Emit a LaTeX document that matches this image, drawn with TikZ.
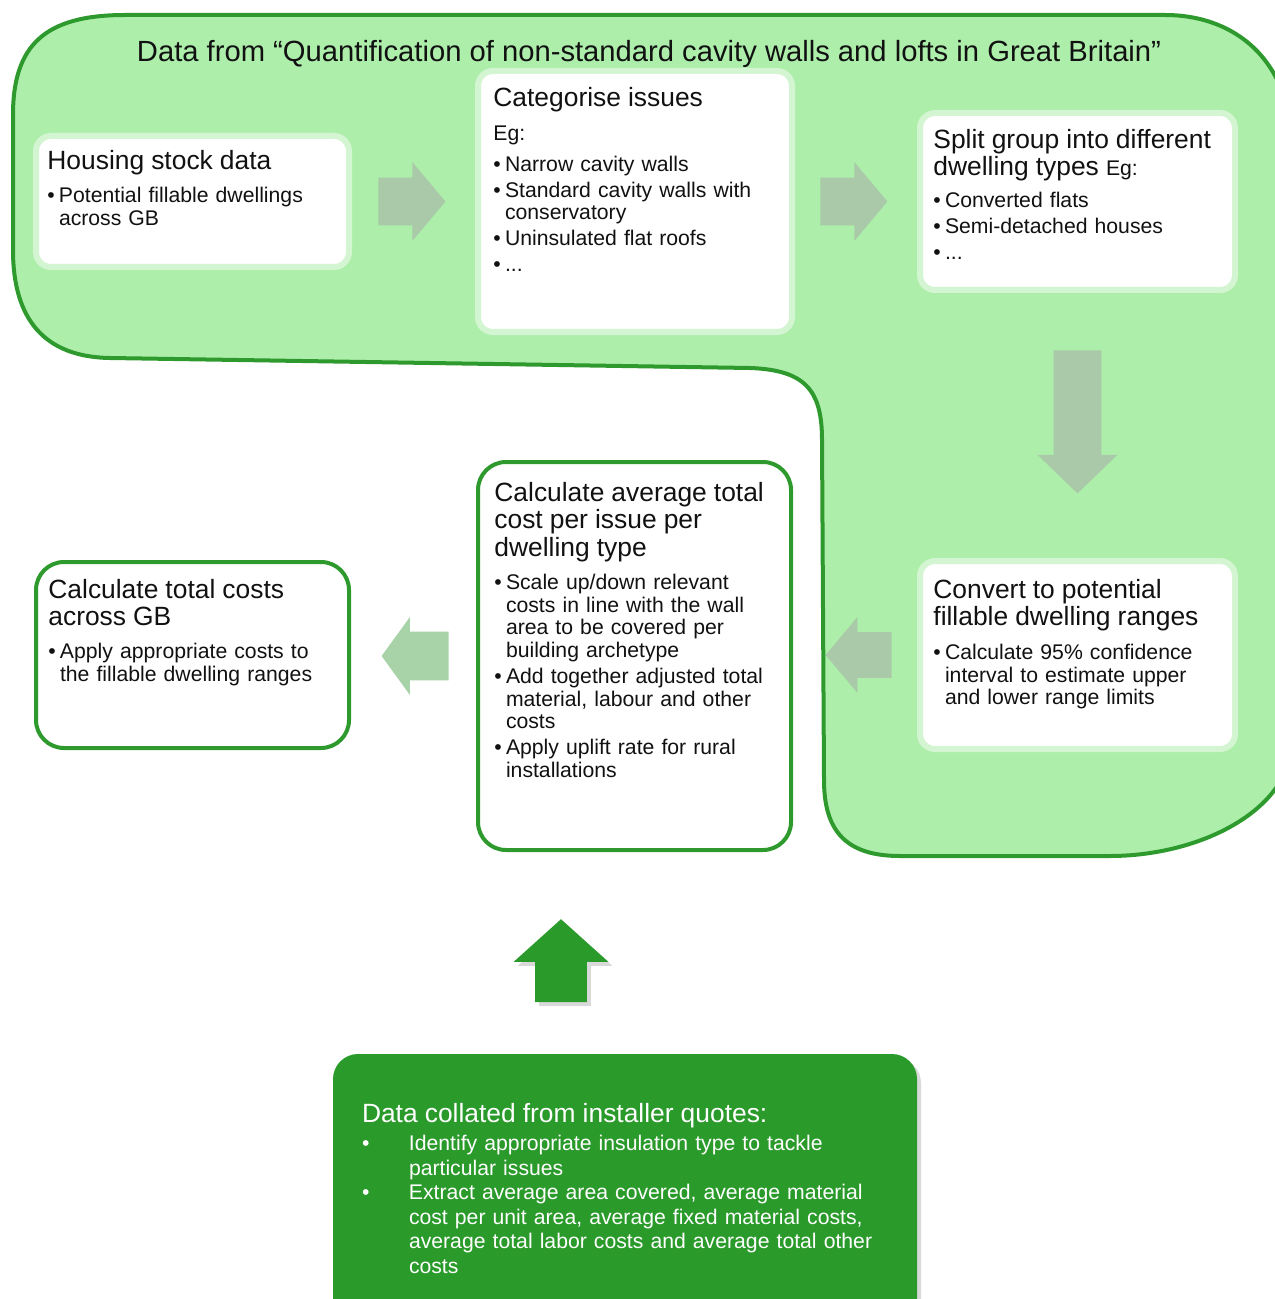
\documentclass[tikz,border=0pt]{standalone}
\usepackage{fontspec}
\setmainfont{Liberation Sans}
\usetikzlibrary{shapes.arrows,shadows,calc}

\definecolor{regiongreen}{RGB}{173,238,171}
\definecolor{edgegreen}{RGB}{46,154,46}
\definecolor{halogreen}{RGB}{212,245,210}
\definecolor{arrowgrey}{RGB}{169,201,169}
\definecolor{arrowlight}{RGB}{168,211,168}
\definecolor{quotegreen}{RGB}{42,154,42}
\definecolor{inktext}{RGB}{17,17,17}

\newcommand{\hdsize}{\fontsize{13.2}{13.75}\selectfont}
\newcommand{\bdsize}{\fontsize{10.6}{11.3}\selectfont}
\newcommand{\bpoint}[1]{\par\vspace{1.7pt}\hangindent=5.8pt\hangafter=1\noindent\makebox[5.8pt][l]{\textbullet}#1\par}
\newcommand{\qpoint}[1]{\par\hangindent=23.5pt\hangafter=1\noindent\makebox[23.5pt][l]{\textbullet}#1\par}

\begin{document}
\begin{tikzpicture}[x=0.5pt,y=-0.5pt]
    \tikzstyle{stepcard} = [rectangle, draw=halogreen, line width=3pt, fill=white, rounded corners=7.5pt, inner sep=0pt]
    \tikzstyle{costcard} = [rectangle, draw=edgegreen, line width=2pt, fill=white, rounded corners=14pt, inner sep=0pt]
    \tikzstyle{flowarrow} = [single arrow, anchor=tail, draw=none, fill=arrowgrey, inner xsep=0pt, inner ysep=11.75pt, single arrow head extend=7.75pt, single arrow tip angle=100, minimum height=33.5pt]
    \tikzstyle{txt} = [anchor=north west, inner sep=0pt, text width=150pt, align=left, font=\bdsize, text=inktext]

    \useasboundingbox (0,0) rectangle (1274,1299);

    \draw[line width=2pt, draw=edgegreen, fill=regiongreen]
        (13,250) -- (13,115) .. controls (13,45) and (45,15) .. (125,15)
        -- (1165,15) .. controls (1235,15) and (1292,60) .. (1292,150)
        -- (1292,740) .. controls (1292,810) and (1200,856) .. (1110,856)
        -- (900,856) .. controls (845,856) and (824,830) .. (824,780)
        -- (822,440) .. controls (822,390) and (805,370) .. (750,368)
        -- (110,358) .. controls (45,357) and (13,320) .. (13,250) -- cycle;

    \node[anchor=north, inner sep=0pt, font=\fontsize{14.6}{15}\selectfont, text=inktext] (title) at (649,40)
        {Data from “Quantification of non-standard cavity walls and lofts in Great Britain”};

    \node[stepcard, minimum width=156.5pt, minimum height=65.5pt] (housing) at (192.5,201.5) {};
    \node[stepcard, minimum width=157pt, minimum height=130.5pt] (categ) at (635,201.5) {};
    \node[stepcard, minimum width=157.5pt, minimum height=88.5pt] (split) at (1077.5,201.5) {};
    \node[stepcard, minimum width=157.5pt, minimum height=94pt] (convert) at (1077.5,655) {};
    \node[costcard, minimum width=156.5pt, minimum height=194pt] (average) at (634.5,656) {};
    \node[costcard, minimum width=156.5pt, minimum height=93pt] (total) at (192.5,655) {};
    \node[rectangle, fill=quotegreen, rounded corners=12.5pt, minimum width=292pt, minimum height=146pt,
        drop shadow={shadow xshift=2pt, shadow yshift=-2pt, opacity=0.3}] (quotes) at (625,1200) {};

    \node[flowarrow] (a1) at ($(housing.east)+(26,0)$) {};
    \node[flowarrow] (a2) at ($(categ.east)+(25,0)$) {};
    \node[flowarrow, shape border rotate=270, minimum height=71.5pt, inner xsep=11.75pt, inner ysep=0pt, single arrow head extend=8pt, single arrow tip angle=92] (a3) at ($(split.south)+(0,57)$) {};
    \node[flowarrow, shape border rotate=180, minimum height=33pt, inner ysep=11.25pt, single arrow head extend=7.5pt] (a4) at ($(convert.west)+(-25,0)$) {};
    \node[flowarrow, fill=arrowlight, shape border rotate=180, inner ysep=12pt, single arrow head extend=7.25pt, single arrow tip angle=108] (a5) at ($(average.west)+(-27,0)$) {};
    \node[flowarrow, fill=quotegreen, shape border rotate=90, minimum height=41.5pt, inner xsep=12.75pt, inner ysep=0pt, single arrow head extend=10.75pt, single arrow tip angle=96,
        drop shadow={shadow xshift=2pt, shadow yshift=-2pt, opacity=0.3}] (a6) at ($(quotes.north)+(-64,-51)$) {};

    \node[txt] (housingtxt) at ($(housing.north west)+(14,17)$)
        {{\hdsize Housing stock data\par}\vspace{3.5pt}\bpoint{Potential fillable dwellings\newline across GB}};
    \node[txt] (categtxt) at ($(categ.north west)+(18,19)$)
        {{\hdsize Categorise issues\par}\vspace{5.7pt}\noindent Eg:\par\vspace{2.3pt}\bpoint{Narrow cavity walls}\bpoint{Standard cavity walls with\newline conservatory}\bpoint{Uninsulated flat roofs}\bpoint{...}};
    \node[txt] (splittxt) at ($(split.north west)+(16,18.6)$)
        {{\hdsize Split group into different\\ dwelling types {\bdsize Eg:}\par}\vspace{3pt}\bpoint{Converted flats}\bpoint{Semi-detached houses}\bpoint{...}};
    \node[txt] (converttxt) at ($(convert.north west)+(16,20.6)$)
        {{\hdsize Convert to potential\\ fillable dwelling ranges\par}\vspace{4pt}\bpoint{Calculate 95\% confidence\newline interval to estimate upper\newline and lower range limits}};
    \node[txt] (averagetxt) at ($(average.north west)+(18,21.6)$)
        {{\hdsize Calculate average total\\ cost per issue per\\ dwelling type\par}\vspace{3.8pt}\bpoint{Scale up/down relevant\newline costs in line with the wall\newline area to be covered per\newline building archetype}\bpoint{Add together adjusted total\newline material, labour and other\newline costs}\bpoint{Apply uplift rate for rural\newline installations}};
    \node[txt] (totaltxt) at ($(total.north west)+(14,18.6)$)
        {{\hdsize Calculate total costs\\ across GB\par}\vspace{3.6pt}\bpoint{Apply appropriate costs to\newline the fillable dwelling ranges}};
    \node[txt, text width=262pt, text=white, font=\fontsize{10.6}{12.25}\selectfont] (quotestxt) at ($(quotes.north west)+(29,49.6)$)
        {{\hdsize Data collated from installer quotes:\par}\vspace{1.75pt}\qpoint{Identify appropriate insulation type to tackle\newline particular issues}\qpoint{Extract average area covered, average material\newline cost per unit area, average fixed material costs,\newline average total labor costs and average total other\newline costs}};
\end{tikzpicture}
\end{document}
